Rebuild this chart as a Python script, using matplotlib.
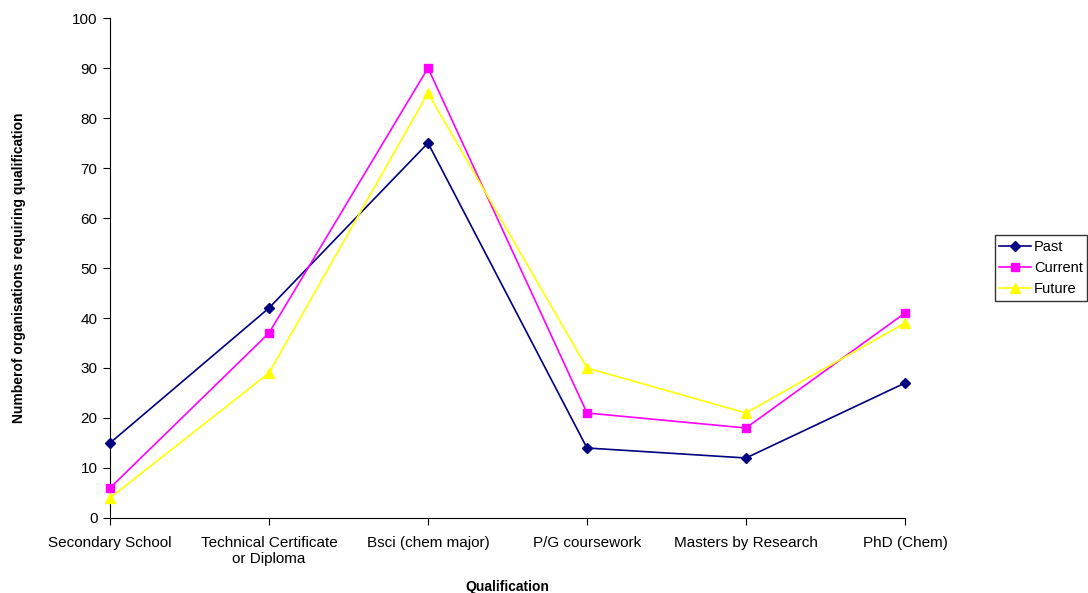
import matplotlib
matplotlib.use("Agg")
import matplotlib.pyplot as plt

plt.rcParams['font.family'] = ['Liberation Sans', 'DejaVu Sans']

categories = ['Secondary School', 'Technical Certificate\nor Diploma', 'Bsci (chem major)',
              'P/G coursework', 'Masters by Research', 'PhD (Chem)']
past = [15, 42, 75, 14, 12, 27]
current = [6, 37, 90, 21, 18, 41]
future = [4, 29, 85, 30, 21, 39]

fig = plt.figure(figsize=(10.88, 5.93), dpi=100)
ax = fig.add_axes([0.1011, 0.1265, 0.7307, 0.8431])

x = list(range(len(categories)))
ax.plot(x, past, color='#000080', marker='D', markersize=5, linewidth=1.2, label='Past', clip_on=False, zorder=3)
ax.plot(x, current, color='#FF00FF', marker='s', markersize=6, linewidth=1.2, label='Current', clip_on=False, zorder=3)
ax.plot(x, future, color='#FFFF00', marker='^', markersize=7, linewidth=1.2, label='Future', clip_on=False, zorder=3)

ax.set_xlim(0, 5)
ax.set_ylim(0, 100)
ax.set_yticks(range(0, 101, 10))
ax.set_xticks(x)
ax.set_xticklabels(categories, fontsize=11)
ax.tick_params(axis='y', labelsize=11, direction='out', length=5, pad=4)
ax.tick_params(axis='x', direction='out', length=5, pad=8)
ax.spines['top'].set_visible(False)
ax.spines['right'].set_visible(False)

ax.set_xlabel('Qualification', fontsize=10, fontweight='bold', labelpad=10)
ax.set_ylabel('Numberof organisations requiring qualification', fontsize=10, fontweight='bold', labelpad=33)

leg = ax.legend(loc='center left', bbox_to_anchor=(1.113, 0.50), fontsize=10.5, frameon=True,
                fancybox=False, edgecolor='black', handlelength=2.2, borderpad=0.3,
                labelspacing=0.5, handletextpad=0.2, borderaxespad=0)
leg.get_frame().set_linewidth(1.0)

fig.savefig('out.png', dpi=100)
